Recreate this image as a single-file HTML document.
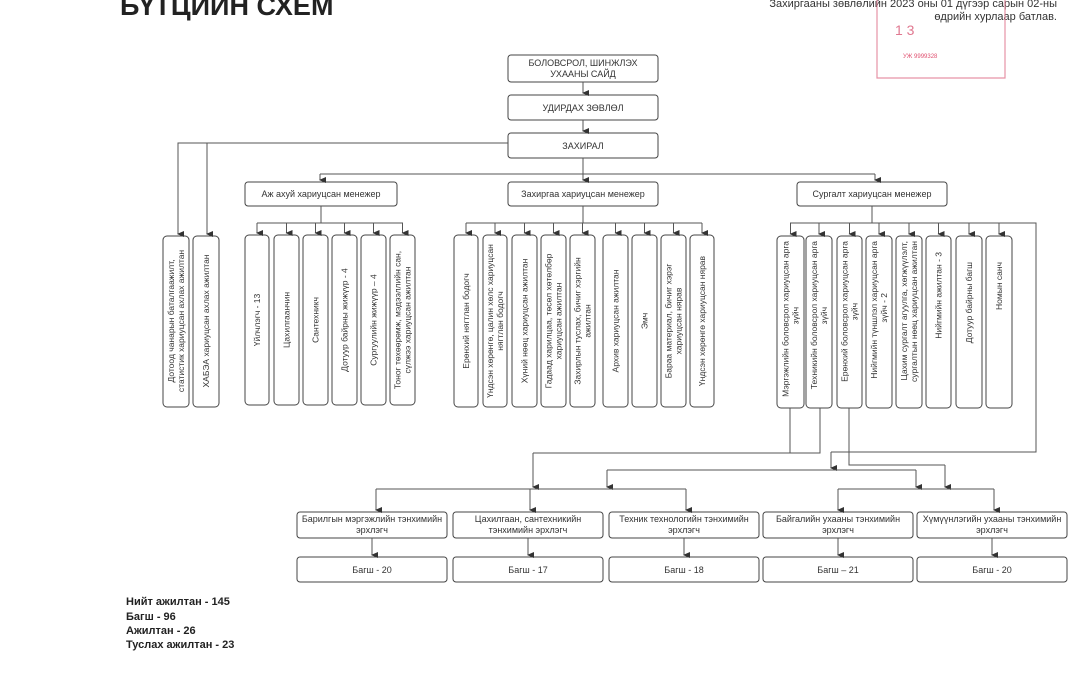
<!DOCTYPE html>
<html><head><meta charset="utf-8"><style>
html,body{margin:0;padding:0;background:#fff;}
svg{display:block;font-family:"Liberation Sans",sans-serif;}
</style></head><body>
<svg width="1080" height="675" viewBox="0 0 1080 675" xmlns="http://www.w3.org/2000/svg">
<defs><marker id="a" markerWidth="6" markerHeight="7" refX="3" refY="6" orient="auto-start-reverse" markerUnits="userSpaceOnUse"><path d="M0,0 L6,0 L3,7 z" fill="#333"/></marker></defs>
<rect width="1080" height="675" fill="#fff"/>
<text x="120" y="15" font-size="27" font-weight="bold" fill="#222">БҮТЦИЙН СХЕМ</text>
<g font-size="11" fill="#333" text-anchor="end"><text x="1057" y="7">Захиргааны зөвлөлийн 2023 оны 01 дүгээр сарын 02-ны</text><text x="1057" y="20">өдрийн хурлаар батлав.</text></g>
<g stroke="#e07890" fill="none" stroke-width="1.2" opacity="0.8"><path d="M877,0 V78 H1005 V0"/></g>
<text x="903" y="58" font-size="6" fill="#e05070">УЖ 9999328</text>
<text x="895" y="35" font-size="14" fill="#e07890">1 3</text>

<g fill="#fff" stroke="#444" stroke-width="1">
<rect x="508" y="55" width="150" height="27" rx="3"/>
<rect x="508" y="95" width="150" height="25" rx="3"/>
<rect x="508" y="133" width="150" height="25" rx="3"/>
<rect x="245" y="182" width="152" height="24" rx="3"/>
<rect x="508" y="182" width="150" height="24" rx="3"/>
<rect x="797" y="182" width="150" height="24" rx="3"/>
<rect x="163" y="236" width="26" height="171" rx="4"/><rect x="193" y="236" width="26" height="171" rx="4"/>
<rect x="245" y="235" width="24" height="170" rx="4"/><rect x="274" y="235" width="25" height="170" rx="4"/><rect x="303" y="235" width="25" height="170" rx="4"/><rect x="332" y="235" width="25" height="170" rx="4"/><rect x="361" y="235" width="25" height="170" rx="4"/><rect x="390" y="235" width="25" height="170" rx="4"/>
<rect x="454" y="235" width="24" height="172" rx="4"/><rect x="483" y="235" width="24" height="172" rx="4"/><rect x="512" y="235" width="25" height="172" rx="4"/><rect x="541" y="235" width="25" height="172" rx="4"/><rect x="570" y="235" width="25" height="172" rx="4"/><rect x="603" y="235" width="25" height="172" rx="4"/><rect x="632" y="235" width="25" height="172" rx="4"/><rect x="661" y="235" width="25" height="172" rx="4"/><rect x="690" y="235" width="24" height="172" rx="4"/>
<rect x="777" y="236" width="27" height="172" rx="4"/><rect x="806" y="236" width="26" height="172" rx="4"/><rect x="837" y="236" width="25" height="172" rx="4"/><rect x="866" y="236" width="26" height="172" rx="4"/><rect x="896" y="236" width="26" height="172" rx="4"/><rect x="926" y="236" width="25" height="172" rx="4"/><rect x="956" y="236" width="26" height="172" rx="4"/><rect x="986" y="236" width="26" height="172" rx="4"/>
<rect x="297" y="512" width="150" height="26" rx="3"/><rect x="453" y="512" width="150" height="26" rx="3"/><rect x="609" y="512" width="150" height="26" rx="3"/><rect x="763" y="512" width="150" height="26" rx="3"/><rect x="917" y="512" width="150" height="26" rx="3"/>
<rect x="297" y="557" width="150" height="25" rx="3"/><rect x="453" y="557" width="150" height="25" rx="3"/><rect x="609" y="557" width="150" height="25" rx="3"/><rect x="763" y="557" width="150" height="25" rx="3"/><rect x="917" y="557" width="150" height="25" rx="3"/>
</g>

<g stroke="#555" stroke-width="1" fill="none">
<path d="M583,82 V93" marker-end="url(#a)"/><path d="M583,120 V131" marker-end="url(#a)"/>
<path d="M508,143 H178 V234" marker-end="url(#a)"/><path d="M207,143 V234" marker-end="url(#a)"/>
<path d="M583,158 V174 M320,174 H875"/>
<path d="M320,174 V180" marker-end="url(#a)"/><path d="M583,174 V180" marker-end="url(#a)"/><path d="M875,174 V180" marker-end="url(#a)"/>
<path d="M321,206 V223 M257,223 H403"/>
<path d="M257,223 V233" marker-end="url(#a)"/><path d="M286.5,223 V233" marker-end="url(#a)"/><path d="M315.5,223 V233" marker-end="url(#a)"/><path d="M344.5,223 V233" marker-end="url(#a)"/><path d="M373.5,223 V233" marker-end="url(#a)"/><path d="M402.5,223 V233" marker-end="url(#a)"/>
<path d="M583,206 V223 M466,223 H702"/>
<path d="M466,223 V233" marker-end="url(#a)"/><path d="M495,223 V233" marker-end="url(#a)"/><path d="M524.5,223 V233" marker-end="url(#a)"/><path d="M553.5,223 V233" marker-end="url(#a)"/><path d="M582.5,223 V233" marker-end="url(#a)"/><path d="M615.5,223 V233" marker-end="url(#a)"/><path d="M644.5,223 V233" marker-end="url(#a)"/><path d="M673.5,223 V233" marker-end="url(#a)"/><path d="M702,223 V233" marker-end="url(#a)"/>
<path d="M872,206 V223 M790,223 H1036 V452 H831"/>
<path d="M790.5,223 V234" marker-end="url(#a)"/><path d="M819,223 V234" marker-end="url(#a)"/><path d="M849.5,223 V234" marker-end="url(#a)"/><path d="M879,223 V234" marker-end="url(#a)"/><path d="M909,223 V234" marker-end="url(#a)"/><path d="M938.5,223 V234" marker-end="url(#a)"/><path d="M969,223 V234" marker-end="url(#a)"/><path d="M999,223 V234" marker-end="url(#a)"/>
<path d="M790,408 V453 M820,408 V453 H533"/><path d="M533,453 V487" marker-end="url(#a)"/>
<path d="M831,452 V468" marker-end="url(#a)"/>
<path d="M607,470 H916"/><path d="M607,470 V487" marker-end="url(#a)"/><path d="M916,470 V487" marker-end="url(#a)"/>
<path d="M849,408 V465 H945"/><path d="M945,465 V487" marker-end="url(#a)"/>
<path d="M376,489 H686"/><path d="M376,489 V510" marker-end="url(#a)"/><path d="M530,489 V510" marker-end="url(#a)"/><path d="M686,489 V510" marker-end="url(#a)"/>
<path d="M838,489 H994"/><path d="M838,489 V510" marker-end="url(#a)"/><path d="M994,489 V510" marker-end="url(#a)"/>
<path d="M372,538 V555" marker-end="url(#a)"/><path d="M528,538 V555" marker-end="url(#a)"/><path d="M684,538 V555" marker-end="url(#a)"/><path d="M838,538 V555" marker-end="url(#a)"/><path d="M992,538 V555" marker-end="url(#a)"/>
</g>

<g font-size="9" fill="#333" text-anchor="middle">
<text x="583" y="66">БОЛОВСРОЛ, ШИНЖЛЭХ</text><text x="583" y="77">УХААНЫ САЙД</text>
<text x="583" y="111">УДИРДАХ ЗӨВЛӨЛ</text>
<text x="583" y="149">ЗАХИРАЛ</text>
<text x="321" y="197">Аж ахуй хариуцсан менежер</text>
<text x="583" y="197">Захиргаа хариуцсан менежер</text>
<text x="872" y="197">Сургалт хариуцсан менежер</text>
<text x="372" y="522">Барилгын мэргэжлийн тэнхимийн</text><text x="372" y="533">эрхлэгч</text>
<text x="528" y="522">Цахилгаан, сантехникийн</text><text x="528" y="533">тэнхимийн эрхлэгч</text>
<text x="684" y="522">Техник технологийн тэнхимийн</text><text x="684" y="533">эрхлэгч</text>
<text x="838" y="522">Байгалийн ухааны тэнхимийн</text><text x="838" y="533">эрхлэгч</text>
<text x="992" y="522">Хүмүүнлэгийн ухааны тэнхимийн</text><text x="992" y="533">эрхлэгч</text>
<text x="372" y="573">Багш - 20</text><text x="528" y="573">Багш - 17</text><text x="684" y="573">Багш  - 18</text><text x="838" y="573">Багш – 21</text><text x="992" y="573">Багш - 20</text>
</g>

<g font-size="8.5" fill="#333" text-anchor="middle">
<text transform="translate(176,321) rotate(-90)"><tspan x="0" y="-2">Дотоод чанарын баталгаажилт,</tspan><tspan x="0" y="8">статистик хариуцсан ахлах ажилтан</tspan></text>
<text transform="translate(209,321) rotate(-90)">ХАБЭА  хариуцсан ахлах ажилтан</text>
<text transform="translate(260,320) rotate(-90)">Үйлчлэгч - 13</text>
<text transform="translate(289.5,320) rotate(-90)">Цахилгаанчин</text>
<text transform="translate(318.5,320) rotate(-90)">Сантехникч</text>
<text transform="translate(347.5,320) rotate(-90)">Дотуур байрны жижүүр - 4</text>
<text transform="translate(376.5,320) rotate(-90)">Сургуулийн жижүүр – 4</text>
<text transform="translate(402.5,320) rotate(-90)"><tspan x="0" y="-2">Тоног төхөөрөмж, мэдээллийн сан,</tspan><tspan x="0" y="8">сүлжээ хариуцсан ажилтан</tspan></text>
<text transform="translate(469,321) rotate(-90)">Ерөнхий нягтлан бодогч</text>
<text transform="translate(495,321) rotate(-90)"><tspan x="0" y="-2">Үндсэн хөрөнгө, цалин хөлс хариуцсан</tspan><tspan x="0" y="8">нягтлан бодогч</tspan></text>
<text transform="translate(527.5,321) rotate(-90)">Хүний нөөц хариуцсан ажилтан</text>
<text transform="translate(553.5,321) rotate(-90)"><tspan x="0" y="-2">Гадаад харилцаа, төсөл хөтөлбөр</tspan><tspan x="0" y="8">хариуцсан ажилтан</tspan></text>
<text transform="translate(582.5,321) rotate(-90)"><tspan x="0" y="-2">Захирлын туслах, бичиг хэргийн</tspan><tspan x="0" y="8">ажилтан</tspan></text>
<text transform="translate(618.5,321) rotate(-90)">Архив хариуцсан ажилтан</text>
<text transform="translate(647.5,321) rotate(-90)">Эмч</text>
<text transform="translate(673.5,321) rotate(-90)"><tspan x="0" y="-2">Бараа материал, бичиг хэрэг</tspan><tspan x="0" y="8">хариуцсан нярав</tspan></text>
<text transform="translate(705,321) rotate(-90)">Үндсэн хөрөнгө хариуцсан нярав</text>
</g>
<g font-size="8.5" fill="#333" text-anchor="end">
<text transform="translate(790.5,241) rotate(-90)"><tspan x="0" y="-2">Мэргэжлийн боловсрол хариуцсан арга</tspan><tspan x="-66" y="8">зүйч</tspan></text>
<text transform="translate(819,241) rotate(-90)"><tspan x="0" y="-2">Техникийн боловсрол хариуцсан арга</tspan><tspan x="-66" y="8">зүйч</tspan></text>
<text transform="translate(849.5,241) rotate(-90)"><tspan x="0" y="-2">Ерөнхий боловсрол хариуцсан арга</tspan><tspan x="-62" y="8">зүйч</tspan></text>
<text transform="translate(879,241) rotate(-90)"><tspan x="0" y="-2">Нийгмийн түншлэл хариуцсан арга</tspan><tspan x="-52" y="8">зүйч - 2</tspan></text>
<text transform="translate(909,241) rotate(-90)"><tspan x="0" y="-2">Цахим сургалт агуулга, хөгжүүлэлт,</tspan><tspan x="0" y="8">сургалтын нөөц хариуцсан ажилтан</tspan></text>
<text transform="translate(941.5,252) rotate(-90)">Нийгмийн ажилтан - 3</text>
<text transform="translate(972,262) rotate(-90)">Дотуур байрны багш</text>
<text transform="translate(1002,262) rotate(-90)">Номын санч</text>
</g>

<g font-size="11" font-weight="bold" fill="#222">
<text x="126" y="605">Нийт ажилтан - 145</text>
<text x="126" y="620">Багш - 96</text>
<text x="126" y="634">Ажилтан - 26</text>
<text x="126" y="648">Туслах ажилтан - 23</text>
</g>
</svg>
</body></html>
